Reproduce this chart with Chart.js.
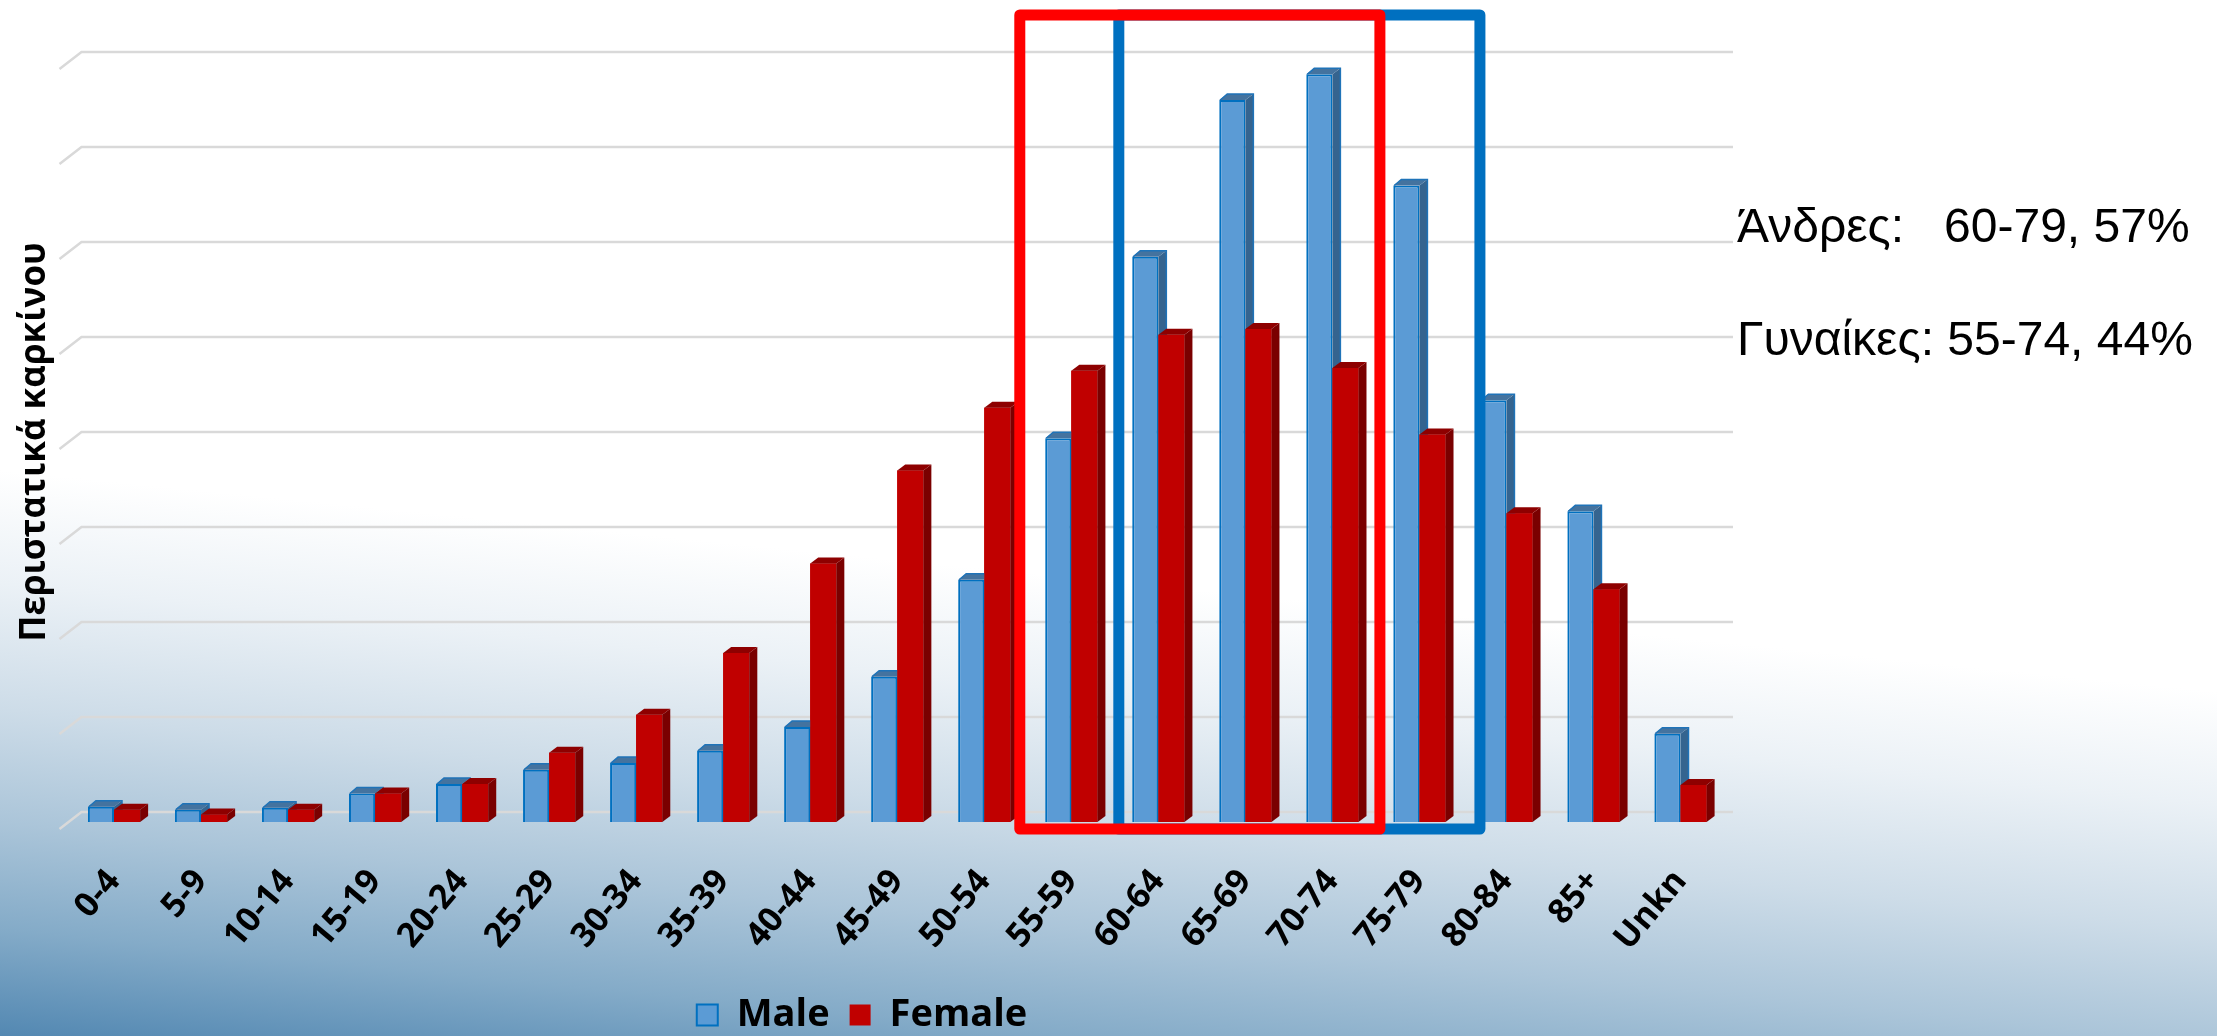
<!DOCTYPE html>
<html>
<head>
<meta charset="utf-8">
<script src="https://cdn.jsdelivr.net/npm/chart.js@4.4.1/dist/chart.umd.min.js"></script>
<style>
html, body { margin:0; padding:0; width:2217px; height:1036px; overflow:hidden; }
body {
  position:relative;
  background: linear-gradient(185.7deg, #ffffff 0%, #ffffff 55%, #ebf1f6 64%, #cddce8 74%, #abc5d9 83%, #84abc8 91.5%, #5388b2 100%);
}
#wrap { position:absolute; left:0; top:0; width:2217px; height:1036px; }
.note { position:absolute; left:1737px; font-family:"Liberation Sans", Arial, sans-serif; font-size:48px; line-height:48px; white-space:pre; color:#000; }
</style>
</head>
<body>
<div id="wrap"><canvas id="c" width="2217" height="1036" style="width:2217px;height:1036px"></canvas></div>
<div class="note" style="top:202px">Άνδρες:   60-79, 57%</div>
<div class="note" style="top:315px">Γυναίκες: 55-74, 44%</div>
<script>
// ---- data ----
const categories = ['0-4','5-9','10-14','15-19','20-24','25-29','30-34','35-39','40-44','45-49','50-54','55-59','60-64','65-69','70-74','75-79','80-84','85+','Unkn'];
const maleCases   = [160, 130, 150, 300, 400, 550, 620, 750, 1000, 1530, 2550, 4040, 5950, 7600, 7870, 6700, 4440, 3270, 930];
const femaleCases = [130,  80, 130, 300, 400, 730, 1130, 1780, 2720, 3700, 4360, 4750, 5130, 5190, 4780, 4080, 3250, 2450, 390];
const seriesNames = ['Male', 'Female'];
const yAxisTitle = 'Περιστατικά καρκίνου';
const yMax = 8000;
const yStep = 1000;
const maleRange = ['60-64', '75-79'];
const femaleRange = ['55-59', '70-74'];

// ---- styles ----
const DEPTH = { dx: 8, dy: 6 };
const BOLD = '"Open Sans", "Noto Sans", sans-serif';
const PAGE_H = 1036, AREA_BOTTOM = 822, BOTTOM_PAD = -8;

const grid3d = {
  id: 'grid3d',
  beforeDatasetsDraw(chart) {
    const { ctx, chartArea: a, scales: { y } } = chart;
    ctx.save();
    ctx.strokeStyle = '#d9d9d9';
    ctx.lineWidth = 2.5;
    for (let v = 0; v <= yMax; v += yStep) {
      const yb = y.getPixelForValue(v) - 10;
      ctx.beginPath();
      ctx.moveTo(a.left - 11, yb + 17);
      ctx.lineTo(a.left + 11, yb);
      ctx.lineTo(a.right + 9, yb);
      ctx.stroke();
    }
    ctx.restore();
  }
};

function drawFaces(ctx, ds, el) {
  const { dx, dy } = DEPTH;
  const { x, y, base, width } = el.getProps(['x', 'y', 'base', 'width'], true);
  const l = x - width / 2, r = x + width / 2;
  ctx.fillStyle = ds.sideColor;
  ctx.beginPath();
  ctx.moveTo(r, y); ctx.lineTo(r + dx, y - dy); ctx.lineTo(r + dx, base - dy); ctx.lineTo(r, base);
  ctx.closePath(); ctx.fill();
  ctx.fillStyle = ds.topColor;
  ctx.beginPath();
  ctx.moveTo(l, y); ctx.lineTo(l + dx, y - dy); ctx.lineTo(r + dx, y - dy); ctx.lineTo(r, y);
  ctx.closePath(); ctx.fill();
  if (ds.edgeColor) {
    ctx.strokeStyle = ds.edgeColor; ctx.lineWidth = 1.5;
    ctx.beginPath();
    ctx.moveTo(l + 1, y); ctx.lineTo(l + dx, y - dy); ctx.lineTo(r + dx, y - dy); ctx.lineTo(r + dx, base - dy);
    ctx.stroke();
  }
}

const bar3d = {
  id: 'bar3d',
  afterDatasetsDraw(chart) {
    const ctx = chart.ctx;
    const mMeta = chart.getDatasetMeta(0), fMeta = chart.getDatasetMeta(1);
    const mDs = chart.data.datasets[0], fDs = chart.data.datasets[1];
    ctx.save();
    mMeta.data.forEach(el => drawFaces(ctx, mDs, el));
    fMeta.data.forEach(el => { el.draw(ctx); drawFaces(ctx, fDs, el); });
    ctx.restore();
  }
};

const rangeBoxes = {
  id: 'rangeBoxes',
  afterDraw(chart) {
    const { ctx, scales: { x, y } } = chart;
    const cw = x.getPixelForValue(1) - x.getPixelForValue(0);
    const top = 15;
    const bottom = y.getPixelForValue(0) + 7;
    const box = (range, color, padL, padR) => {
      const i0 = categories.indexOf(range[0]), i1 = categories.indexOf(range[1]);
      const l = x.getPixelForValue(i0) - cw / 2 + padL;
      const r = x.getPixelForValue(i1) + cw / 2 + padR;
      ctx.save();
      ctx.strokeStyle = color; ctx.lineWidth = 11; ctx.lineJoin = 'round';
      ctx.strokeRect(l, top, r - l, bottom - top);
      ctx.restore();
    };
    box(maleRange, '#0070c0', 4, 17);
    box(femaleRange, '#ff0000', -8, 4);
  }
};

new Chart(document.getElementById('c'), {
  type: 'bar',
  data: {
    labels: categories,
    datasets: [
      { label: seriesNames[0], data: maleCases, backgroundColor: '#5b9bd5', borderColor: '#0070c0', borderWidth: 2,
        sideColor: '#35648f', topColor: '#44739f', edgeColor: '#1f73b8' },
      { label: seriesNames[1], data: femaleCases, backgroundColor: '#c00000', borderColor: '#c00000', borderWidth: 0,
        sideColor: '#7a0000', topColor: '#8e0000' }
    ]
  },
  options: {
    responsive: false,
    devicePixelRatio: 1,
    animation: false,
    layout: { padding: { left: 0, top: 62, right: 493, bottom: BOTTOM_PAD } },
    datasets: { bar: { categoryPercentage: 0.6, barPercentage: 1.0 } },
    scales: {
      x: {
        grid: { display: false, drawTicks: false },
        border: { display: false },
        ticks: { color: '#000', font: { family: BOLD, size: 34, weight: 'bold' }, maxRotation: 50, minRotation: 50, padding: 40, autoSkip: false },
        afterFit: (s) => { const lg = s.chart.legend; s.height = PAGE_H - BOTTOM_PAD - AREA_BOTTOM - (lg ? lg.height : 68); }
      },
      y: {
        min: 0, max: yMax,
        grid: { display: false },
        border: { display: false },
        ticks: { display: false, stepSize: yStep },
        title: { display: true, text: yAxisTitle, color: '#000', font: { family: BOLD, size: 35, weight: 'bold' }, padding: { top: 14, bottom: 0 } },
        afterFit: (s) => { s.width = 70.5; }
      }
    },
    plugins: {
      tooltip: { enabled: false },
      legend: {
        position: 'bottom',
        labels: {
          color: '#000', font: { family: BOLD, size: 38, weight: 'bold' },
          boxWidth: 21, boxHeight: 21, padding: 20
        }
      }
    }
  },
  plugins: [grid3d, bar3d, rangeBoxes]
});
</script>
</body>
</html>
